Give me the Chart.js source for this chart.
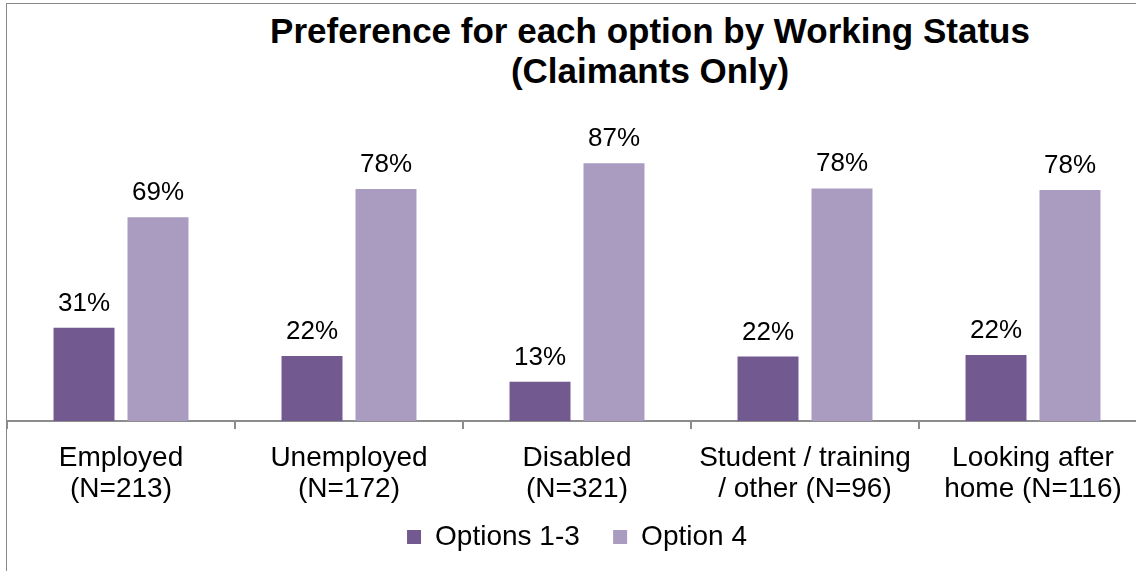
<!DOCTYPE html>
<html>
<head>
<meta charset="utf-8">
<script src="https://cdn.jsdelivr.net/npm/chart.js@4.4.1/dist/chart.umd.min.js"></script>
<style>
  html, body { margin: 0; padding: 0; background: #fff; overflow: hidden; }
  #frame {
    position: absolute; left: 6px; top: 3px;
    width: 1200px; height: 600px;
    border-left: 1px solid #888; border-top: 1px solid #888;
  }
  #title {
    position: absolute; left: 200px; top: 11px; width: 900px;
    text-align: center;
    font: bold 35px "Liberation Sans", Arial, sans-serif;
    line-height: 40px; color: #000;
  }
  #wrap { position: absolute; left: 7px; top: 4px; width: 1140px; height: 567px; }
</style>
</head>
<body>
<div id="frame"></div>
<div id="title">Preference for each option by Working Status<br>(Claimants Only)</div>
<div id="wrap"><canvas id="myChart"></canvas></div>

<script>
// データ
const categories = [
    ["Employed", "(N=213)"],
    ["Unemployed", "(N=172)"],
    ["Disabled", "(N=321)"],
    ["Student / training", "/ other (N=96)"],
    ["Looking after", "home (N=116)"]
];
const seriesNames = ["Options 1-3", "Option 4"];
const options13 = [31.4, 21.9, 13.2, 21.7, 22.2];
const option4 = [68.6, 78.1, 86.8, 78.3, 77.8];

const colors = ["#72598f", "#aa9bc1"];
const FONT = "'Liberation Sans', Arial, sans-serif";

// バーの上にパーセントを表示
const valueLabels = {
    id: "valueLabels",
    afterDatasetsDraw(chart) {
        const ctx = chart.ctx;
        ctx.save();
        ctx.font = "26px " + FONT;
        ctx.fillStyle = "#000";
        ctx.textAlign = "center";
        ctx.textBaseline = "alphabetic";
        chart.data.datasets.forEach((ds, i) => {
            chart.getDatasetMeta(i).data.forEach((bar, j) => {
                ctx.fillText(Math.round(ds.data[j]) + "%", bar.x, bar.y - 17);
            });
        });
        ctx.restore();
    }
};

const ctx = document.getElementById("myChart").getContext("2d");

const chart = new Chart(ctx, {
    type: "bar",
    data: {
        labels: categories,
        datasets: [
            { label: seriesNames[0], data: options13, backgroundColor: colors[0] },
            { label: seriesNames[1], data: option4, backgroundColor: colors[1] }
        ]
    },
    options: {
        responsive: true,
        maintainAspectRatio: false,
        animation: false,
        categoryPercentage: 0.649,
        barPercentage: 0.824,
        layout: { padding: { top: 120, bottom: 10, left: 0, right: 0 } },
        scales: {
            x: {
                grid: {
                    drawOnChartArea: false,
                    drawTicks: true,
                    tickLength: 8,
                    color: "#8c8c8c",
                    lineWidth: 2
                },
                border: { display: true, color: "#8c8c8c", width: 2 },
                ticks: {
                    color: "#000",
                    padding: 14,
                    maxRotation: 0,
                    autoSkip: false,
                    font: { family: FONT, size: 28, lineHeight: 1.1 }
                },
                afterFit: (scale) => { scale.height = 92; }
            },
            y: {
                display: false,
                min: 0,
                max: 100
            }
        },
        plugins: {
            legend: {
                position: "bottom",
                labels: {
                    color: "#000",
                    boxWidth: 14,
                    boxHeight: 14,
                    padding: 10,
                    font: { family: FONT, size: 28 },
                    // 凡例の項目間を少し広げる
                    generateLabels: (chart) => {
                        const items = Chart.defaults.plugins.legend.labels.generateLabels(chart);
                        items.forEach((it, i) => {
                            if (i < items.length - 1) it.text = it.text + "   ";
                        });
                        return items;
                    }
                }
            },
            tooltip: { enabled: false }
        }
    },
    plugins: [valueLabels]
});
</script>
</body>
</html>
